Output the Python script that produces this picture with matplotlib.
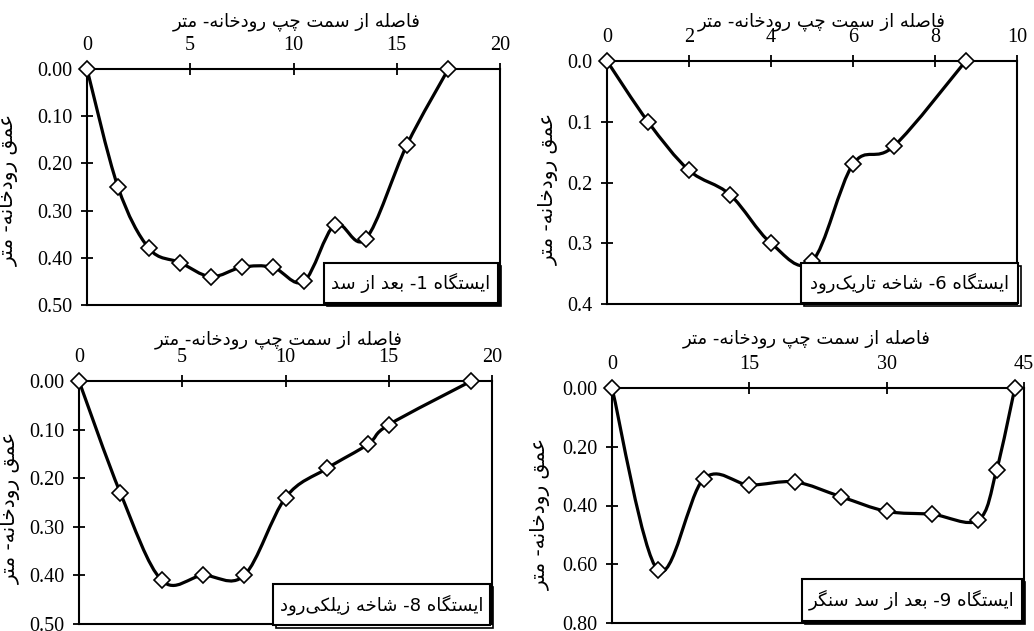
import re

import numpy as np
import matplotlib
matplotlib.use("Agg")
import matplotlib.pyplot as plt
from matplotlib.path import Path
from matplotlib.patches import PathPatch, Rectangle

# ---- Data (distance from left bank [m], depth [m]) ----
st1_x = [0, 1.5, 3, 4.5, 6, 7.5, 9, 10.5, 12, 13.5, 15.5, 17.5]
st1_depth = [0, 0.25, 0.38, 0.41, 0.44, 0.42, 0.42, 0.45, 0.33, 0.36, 0.16, 0]

st6_x = [0, 1, 2, 3, 4, 5, 6, 7, 8.75]
st6_depth = [0, 0.10, 0.18, 0.22, 0.30, 0.33, 0.17, 0.14, 0]

st8_x = [0, 2, 4, 6, 8, 10, 12, 14, 15, 19]
st8_depth = [0, 0.23, 0.41, 0.40, 0.40, 0.24, 0.18, 0.13, 0.09, 0]

st9_x = [0, 5, 10, 15, 20, 25, 30, 35, 40, 42, 44]
st9_depth = [0, 0.62, 0.31, 0.33, 0.32, 0.37, 0.42, 0.43, 0.45, 0.28, 0]

st1_title = "ایستگاه 1- بعد از سد"
st6_title = "ایستگاه 6- شاخه تاریک\u200cرود"
st8_title = "ایستگاه 8- شاخه زیلکی\u200cرود"
st9_title = "ایستگاه 9- بعد از سد سنگر"

x_title = "فاصله از سمت چپ رودخانه- متر"
y_title = "عمق رودخانه- متر"

# ---- Minimal Persian shaping (matplotlib has no complex text layout) ----
FORMS = {
    "ا": ("\uFE8D", "\uFE8E", None, None),
    "ب": ("\uFE8F", "\uFE90", "\uFE91", "\uFE92"),
    "پ": ("\uFB56", "\uFB57", "\uFB58", "\uFB59"),
    "ت": ("\uFE95", "\uFE96", "\uFE97", "\uFE98"),
    "چ": ("\uFB7A", "\uFB7B", "\uFB7C", "\uFB7D"),
    "خ": ("\uFEA5", "\uFEA6", "\uFEA7", "\uFEA8"),
    "د": ("\uFEA9", "\uFEAA", None, None),
    "ر": ("\uFEAD", "\uFEAE", None, None),
    "ز": ("\uFEAF", "\uFEB0", None, None),
    "س": ("\uFEB1", "\uFEB2", "\uFEB3", "\uFEB4"),
    "ش": ("\uFEB5", "\uFEB6", "\uFEB7", "\uFEB8"),
    "ص": ("\uFEB9", "\uFEBA", "\uFEBB", "\uFEBC"),
    "ع": ("\uFEC9", "\uFECA", "\uFECB", "\uFECC"),
    "ف": ("\uFED1", "\uFED2", "\uFED3", "\uFED4"),
    "ق": ("\uFED5", "\uFED6", "\uFED7", "\uFED8"),
    "ک": ("\uFB8E", "\uFB8F", "\uFB90", "\uFB91"),
    "گ": ("\uFB92", "\uFB93", "\uFB94", "\uFB95"),
    "ل": ("\uFEDD", "\uFEDE", "\uFEDF", "\uFEE0"),
    "م": ("\uFEE1", "\uFEE2", "\uFEE3", "\uFEE4"),
    "ن": ("\uFEE5", "\uFEE6", "\uFEE7", "\uFEE8"),
    "و": ("\uFEED", "\uFEEE", None, None),
    "ه": ("\uFEE9", "\uFEEA", "\uFEEB", "\uFEEC"),
    "ی": ("\uFBFC", "\uFBFD", "\uFBFE", "\uFBFF"),
}


def rtl(text):
    out = []
    for i, ch in enumerate(text):
        if ch not in FORMS:
            out.append(ch)
            continue
        prev = text[i - 1] if i > 0 else ""
        nxt = text[i + 1] if i + 1 < len(text) else ""
        join_prev = prev in FORMS and FORMS[prev][2] is not None
        join_next = nxt in FORMS and FORMS[ch][2] is not None
        iso, fin, ini, med = FORMS[ch]
        if join_prev and join_next:
            out.append(med)
        elif join_prev:
            out.append(fin)
        elif join_next:
            out.append(ini)
        else:
            out.append(iso)
    s = "".join(c for c in out if c != "\u200c")[::-1]
    return re.sub(r"[0-9]+", lambda m: m.group(0)[::-1], s)


def smooth_path(x, y):
    # Catmull-Rom style cubic Bezier through the points (like a smoothed Excel line)
    p = np.column_stack([x, y]).astype(float)
    ext = np.vstack([p[0], p, p[-1]])
    verts = [p[0]]
    codes = [Path.MOVETO]
    for i in range(len(p) - 1):
        p0, p1, p2, p3 = ext[i], ext[i + 1], ext[i + 2], ext[i + 3]
        verts += [p1 + (p2 - p0) / 6, p2 - (p3 - p1) / 6, p2]
        codes += [Path.CURVE4] * 3
    return Path(verts, codes)


W, H = 1034, 631
PERSIAN = ["DejaVu Sans"]
plt.rcParams["font.family"] = ["Liberation Serif"]

fig = plt.figure(figsize=(W / 100, H / 100), dpi=100)


def px_rect(l, t, r, b):
    return [l / W, 1 - b / H, (r - l) / W, (b - t) / H]


# axes box, x range, y range, station box, axis-title centres (all in pixels)
panels = [
    (st1_x, st1_depth, st1_title, (87, 69, 500, 305), 20, 5, 0.5, 0.1, "%.2f",
     (324, 263, 498, 303), (297, 22), (9, 190)),
    (st6_x, st6_depth, st6_title, (607, 61, 1017, 304), 10, 2, 0.4, 0.1, "%.1f",
     (801, 263, 1018, 303), (822, 22), (549, 189)),
    (st8_x, st8_depth, st8_title, (79, 381, 492, 624), 20, 5, 0.5, 0.1, "%.2f",
     (273, 584, 490, 625), (279, 340), (11, 508)),
    (st9_x, st9_depth, st9_title, (612, 388, 1024, 623), 45, 15, 0.8, 0.2, "%.2f",
     (802, 579, 1022, 621), (807, 339), (541, 514)),
]

for x, d, title, box, xmax, xstep, ymax, ystep, fmt, lab, xl, yl in panels:
    ax = fig.add_axes(px_rect(*box))
    ax.set_xlim(0, xmax)
    ax.set_ylim(ymax, 0)
    ax.set_xticks(np.arange(0, xmax + 0.01, xstep))
    ax.set_yticks(np.arange(0, ymax + 1e-6, ystep))
    ax.yaxis.set_major_formatter(matplotlib.ticker.FormatStrFormatter(fmt))
    ax.xaxis.tick_top()
    ax.tick_params(direction="inout", length=9, width=1.3, labelsize=14.5, colors="black")
    ax.tick_params(axis="x", pad=5.5)
    ax.tick_params(axis="y", pad=6)
    for sp in ax.spines.values():
        sp.set_linewidth(1.5)

    ax.add_patch(PathPatch(smooth_path(x, d), facecolor="none", edgecolor="black",
                           lw=2.3, zorder=3, clip_on=False))
    ax.plot(x, d, linestyle="none", marker="D", ms=8, mfc="white", mec="black",
            mew=1.2, zorder=4, clip_on=False)

    fig.text(xl[0] / W, 1 - xl[1] / H, rtl(x_title), family=PERSIAN, fontsize=13,
             ha="center", va="center")
    fig.text(yl[0] / W, 1 - yl[1] / H, rtl(y_title), family=PERSIAN, fontsize=14.5,
             ha="center", va="center", rotation=90)

    # station label box with a thin drop shadow
    l, t, r, b = lab
    sh = Rectangle(((l + 3) / W, 1 - (b + 3) / H), (r - l) / W, (b - t) / H,
                   transform=fig.transFigure, facecolor="none", edgecolor="black",
                   lw=1.2, zorder=5)
    main = Rectangle((l / W, 1 - b / H), (r - l) / W, (b - t) / H,
                     transform=fig.transFigure, facecolor="white", edgecolor="black",
                     lw=1.5, zorder=6)
    fig.add_artist(sh)
    fig.add_artist(main)
    fig.text((l + r) / 2 / W, 1 - (t + b) / 2 / H, rtl(title), family=PERSIAN,
             fontsize=13, ha="center", va="center", zorder=7)

fig.savefig("out.png", dpi=100)
